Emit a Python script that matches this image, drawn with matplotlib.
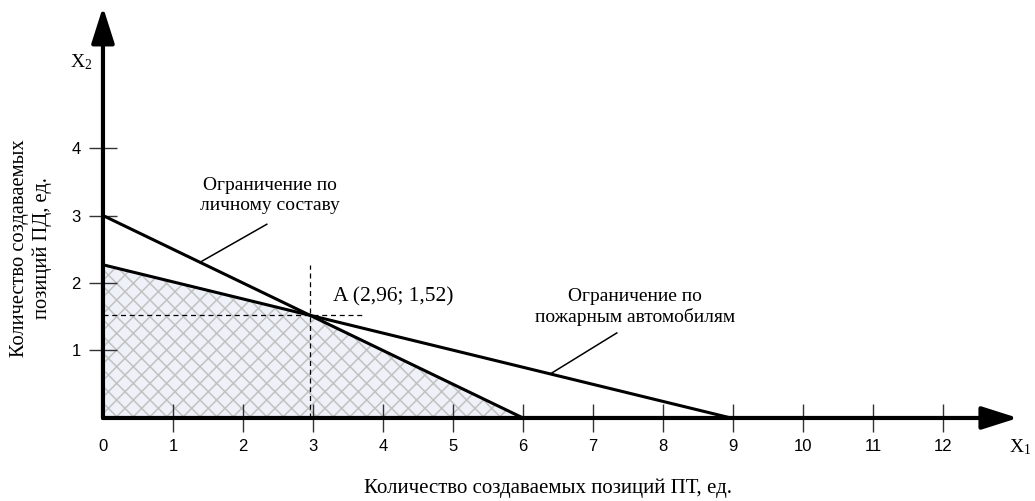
import matplotlib.pyplot as plt
from matplotlib.patches import Polygon

# ограничения (концы прямых) и точка оптимума
personnel_x = [0, 6.0]
personnel_y = [3.0, 0]
trucks_x = [0, 8.97]
trucks_y = [2.27, 0]
opt_x, opt_y = 2.96, 1.52
region = [(0, 0), (0, 2.27), (opt_x, opt_y), (6.0, 0)]

x_ticks = list(range(0, 13))
y_ticks = [1, 2, 3, 4]

serif = 'Liberation Serif'
sans = 'Liberation Sans'
plt.rcParams['hatch.linewidth'] = 1.1

fig = plt.figure(figsize=(10.35, 5.01), dpi=100)
ax = fig.add_axes([0, 0, 1, 1])
ax.set_xlim(-1.471, 13.314)
ax.set_ylim(-1.23, 6.193)

# допустимая область
ax.add_patch(Polygon(region, closed=True, facecolor='#eef1f8',
                     edgecolor='#c2c2c2', hatch='xx', lw=0, zorder=1))

# прямые ограничений
ax.plot(personnel_x, personnel_y, color='k', lw=2.2, zorder=3)
ax.plot(trucks_x, trucks_y, color='k', lw=2.2, zorder=3)

# пунктир к точке А
ax.plot([opt_x, opt_x], [0, 2.27], color='k', lw=0.9, ls=(0, (4, 3)), zorder=2)
ax.plot([0, 3.71], [opt_y, opt_y], color='k', lw=0.9, ls=(0, (4, 3)), zorder=2)
ax.text(3.28, 1.80, 'A (2,96; 1,52)', family=serif, fontsize=15.5,
        ha='left', va='center')

# оси со стрелками
for tip in [(13.07, 0), (0, 6.09)]:
    ax.annotate('', xy=tip, xytext=(0, 0),
                arrowprops=dict(arrowstyle='-|>,head_length=1.1,head_width=0.35',
                                mutation_scale=20, lw=3, color='k',
                                shrinkA=0, shrinkB=0), zorder=4)

for s in ax.spines.values():
    s.set_visible(False)
ax.spines['left'].set_position(('data', 0))
ax.spines['bottom'].set_position(('data', 0))
ax.set_xticks(x_ticks)
ax.set_yticks(y_ticks)
ax.tick_params(direction='inout', length=20, width=1, color='#333333',
               labelsize=12, labelcolor='k')
ax.tick_params(axis='x', pad=5)
ax.tick_params(axis='y', pad=6)
ax.xaxis.get_major_ticks()[0].tick1line.set_visible(False)
for lab in ax.get_xticklabels() + ax.get_yticklabels():
    lab.set_family(sans)

# подписи осей
ax.text(13.1, -0.43, r'$\mathregular{X_1}$', family=serif, fontsize=14,
        ha='center', va='center')
ax.text(-0.31, 5.27, r'$\mathregular{X_2}$', family=serif, fontsize=14,
        ha='center', va='center')
ax.text(6.36, -1.04, 'Количество создаваемых позиций ПТ, ед.', family=serif,
        fontsize=15, ha='center', va='center')
ax.text(-1.03, 2.52, 'Количество создаваемых\nпозиций ПД, ед.', family=serif,
        fontsize=14.8, ha='center', va='center', rotation=90)

# выноски
ax.text(2.39, 3.30, 'Ограничение по\nличному составу', family=serif,
        fontsize=14, ha='center', va='center', linespacing=1.2)
ax.plot([2.34, 1.386], [2.87, 3.0 - 0.5 * 1.386], color='k', lw=1.1)
ax.text(7.6, 1.64, 'Ограничение по\nпожарным автомобилям', family=serif,
        fontsize=14, ha='center', va='center', linespacing=1.2)
ax.plot([7.34, 6.39], [1.26, 2.27 * (1 - 6.39 / 8.97)], color='k', lw=1.1)

fig.savefig('out.png', dpi=100)
